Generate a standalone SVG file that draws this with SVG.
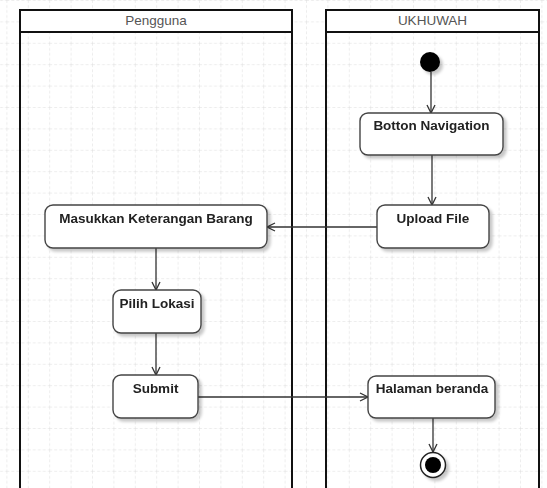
<svg xmlns="http://www.w3.org/2000/svg" width="547" height="488" viewBox="0 0 547 488">
  <style>
    .lane { fill: none; stroke: #111; stroke-width: 2; }
    .lanehead { fill: #fff; stroke: #111; stroke-width: 2; }
    .lanetitle { font-family: "Liberation Sans", Arial, sans-serif; font-size: 13.5px; fill: #555; text-anchor: middle; }
    .act { fill: #fff; stroke: #444; stroke-width: 1.4; }
    .label { font-family: "Liberation Sans", Arial, sans-serif; font-size: 13.5px; font-weight: bold; fill: #222; text-anchor: middle; }
    .edge { fill: none; stroke: #333; stroke-width: 1.3; }
  </style>
  <defs>
    <pattern id="grid" patternUnits="userSpaceOnUse" x="6.4" y="0" width="21.4" height="21.4">
      <path d="M0 0 V21.4 M0 0 H21.4" fill="none" stroke="#dcdcdc" stroke-width="1" stroke-dasharray="3 2"/>
    </pattern>
    <filter id="shadow" x="-20%" y="-20%" width="150%" height="160%">
      <feGaussianBlur in="SourceAlpha" stdDeviation="1.6"/>
      <feOffset dx="3" dy="3" result="b"/>
      <feComponentTransfer>
        <feFuncA type="linear" slope="0.22"/>
      </feComponentTransfer>
      <feMerge>
        <feMergeNode/>
        <feMergeNode in="SourceGraphic"/>
      </feMerge>
    </filter>
    <marker id="open" markerUnits="userSpaceOnUse" markerWidth="12" markerHeight="12" refX="9" refY="5" orient="auto">
      <path d="M1 1 L9 5 L1 9" fill="none" stroke="#333" stroke-width="1.3"/>
    </marker>
  </defs>

  <!-- background grid -->
  <rect width="547" height="488" fill="#fff"/>
  <rect width="547" height="488" fill="url(#grid)"/>

  <!-- swimlanes -->
  <g id="lane-pengguna">
    <rect class="lanehead" x="20" y="10" width="272" height="22"/>
    <rect class="lane" x="20" y="10" width="272" height="490"/>
    <text class="lanetitle" x="156" y="25">Pengguna</text>
  </g>
  <g id="lane-ukhuwah">
    <rect class="lanehead" x="326" y="10" width="213" height="22"/>
    <rect class="lane" x="326" y="10" width="213" height="490"/>
    <text class="lanetitle" x="432.5" y="25">UKHUWAH</text>
  </g>

  <!-- connectors -->
  <g id="connectors">
    <line class="edge" x1="431" y1="72" x2="431" y2="113" marker-end="url(#open)"/>
    <line class="edge" x1="432" y1="155" x2="432" y2="205" marker-end="url(#open)"/>
    <line class="edge" x1="377" y1="227" x2="267" y2="227" marker-end="url(#open)"/>
    <line class="edge" x1="156" y1="248" x2="156" y2="290" marker-end="url(#open)"/>
    <line class="edge" x1="156" y1="333" x2="156" y2="375" marker-end="url(#open)"/>
    <line class="edge" x1="198" y1="397" x2="368" y2="397" marker-end="url(#open)"/>
    <line class="edge" x1="433" y1="418" x2="433" y2="452" marker-end="url(#open)"/>
  </g>

  <!-- nodes -->
  <g id="start" filter="url(#shadow)">
    <circle cx="430" cy="62" r="10" fill="#000"/>
  </g>
  <g id="botton-navigation" filter="url(#shadow)">
    <rect class="act" x="360" y="113" width="143" height="42" rx="8"/>
    <text class="label" x="431.5" y="130">Botton Navigation</text>
  </g>
  <g id="upload-file" filter="url(#shadow)">
    <rect class="act" x="377" y="205" width="112" height="43" rx="8"/>
    <text class="label" x="433" y="223">Upload File</text>
  </g>
  <g id="masukkan-keterangan" filter="url(#shadow)">
    <rect class="act" x="45" y="205" width="222" height="43" rx="8"/>
    <text class="label" x="156" y="223">Masukkan Keterangan Barang</text>
  </g>
  <g id="pilih-lokasi" filter="url(#shadow)">
    <rect class="act" x="113" y="290" width="88" height="43" rx="8"/>
    <text class="label" x="157" y="308">Pilih Lokasi</text>
  </g>
  <g id="submit" filter="url(#shadow)">
    <rect class="act" x="113" y="375" width="85" height="43" rx="8"/>
    <text class="label" x="155.5" y="393">Submit</text>
  </g>
  <g id="halaman-beranda" filter="url(#shadow)">
    <rect class="act" x="368" y="376" width="127" height="42" rx="8"/>
    <text class="label" x="432" y="393">Halaman beranda</text>
  </g>
  <g id="end" filter="url(#shadow)">
    <circle cx="433" cy="465" r="12.5" fill="#fff" stroke="#222" stroke-width="1.5"/>
    <circle cx="433" cy="465" r="8" fill="#000"/>
  </g>
</svg>
